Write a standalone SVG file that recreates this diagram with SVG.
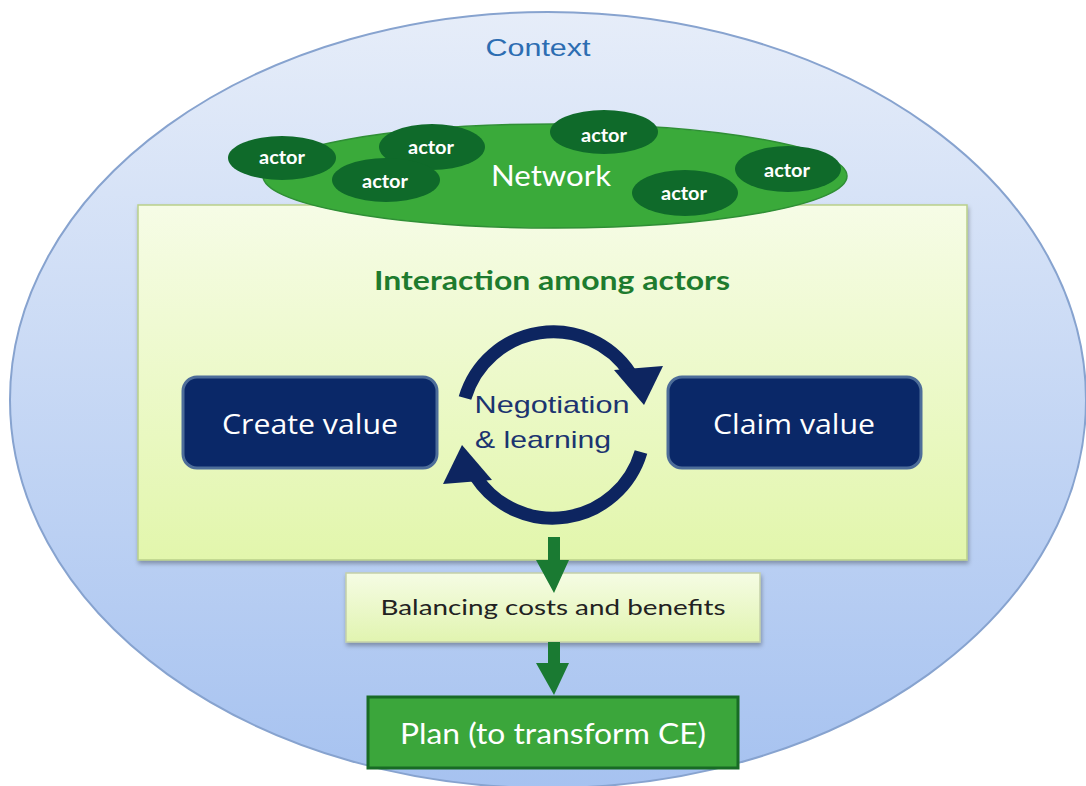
<svg xmlns="http://www.w3.org/2000/svg" width="1086" height="786" viewBox="0 0 1086 786">
<defs>
<linearGradient id="gCtx" x1="0" y1="0" x2="0" y2="1">
<stop offset="0" stop-color="#e6edf9"/>
<stop offset="1" stop-color="#a6c2f0"/>
</linearGradient>
<linearGradient id="gInt" x1="0" y1="0" x2="0" y2="1">
<stop offset="0" stop-color="#f6fce6"/>
<stop offset="1" stop-color="#e2f6ac"/>
</linearGradient>
<linearGradient id="gBal" x1="0" y1="0" x2="0" y2="1">
<stop offset="0" stop-color="#f5fce4"/>
<stop offset="1" stop-color="#e1f4b0"/>
</linearGradient>
<filter id="sh" x="-10%" y="-10%" width="120%" height="130%">
<feDropShadow dx="1" dy="3" stdDeviation="2" flood-color="#000" flood-opacity="0.3"/>
</filter>
</defs>
<style>
.actor ellipse{fill:#0f6a2a;}
.actor text{fill:#ffffff;font-family:Lato,"Liberation Sans",sans-serif;font-weight:bold;font-size:18px;text-anchor:middle;}
.navy rect{fill:#0a2868;stroke:#4d6d99;stroke-width:3;}
.navy text{fill:#ffffff;font-family:"Open Sans",Lato,sans-serif;font-size:28px;text-anchor:middle;}
.cyc{fill:none;stroke:#0d2560;stroke-width:13;}
.cyh{fill:#0d2560;}
.garrow{fill:#1a7a32;}
</style>

<g id="context">
<ellipse cx="548" cy="400" rx="538" ry="388" fill="url(#gCtx)" stroke="#87a3cf" stroke-width="2"/>
<text x="538" y="56" font-family="Liberation Sans,Arial,sans-serif" font-size="24" fill="#2c6db2" text-anchor="middle" textLength="105" lengthAdjust="spacingAndGlyphs">Context</text>
</g>

<g id="interaction">
<rect x="138" y="205" width="829" height="355" fill="url(#gInt)" stroke="#b9cf8a" stroke-width="1.5" filter="url(#sh)"/>
<text x="552" y="290" font-family="Lato,Open Sans,sans-serif" font-weight="bold" font-size="26" fill="#1e7b2e" text-anchor="middle" textLength="356" lengthAdjust="spacingAndGlyphs">Interaction among actors</text>
</g>

<g id="network">
<ellipse cx="555" cy="176" rx="292" ry="52" fill="#3aaa3a" stroke="#2f8f35" stroke-width="1.5"/>
<text x="551" y="186" font-family="Lato,Open Sans,sans-serif" font-size="28" fill="#ffffff" text-anchor="middle" textLength="120" lengthAdjust="spacingAndGlyphs">Network</text>
</g>

<g id="actor1" class="actor"><ellipse cx="282" cy="158" rx="54" ry="22"/><text x="282" y="164" textLength="46" lengthAdjust="spacingAndGlyphs">actor</text></g>
<g id="actor2" class="actor"><ellipse cx="432" cy="147" rx="53" ry="23"/><text x="431" y="154" textLength="46" lengthAdjust="spacingAndGlyphs">actor</text></g>
<g id="actor3" class="actor"><ellipse cx="386" cy="180" rx="54" ry="22"/><text x="385" y="188" textLength="46" lengthAdjust="spacingAndGlyphs">actor</text></g>
<g id="actor4" class="actor"><ellipse cx="604" cy="132" rx="54" ry="22"/><text x="604" y="142" textLength="46" lengthAdjust="spacingAndGlyphs">actor</text></g>
<g id="actor5" class="actor"><ellipse cx="685" cy="193" rx="53" ry="23"/><text x="684" y="200" textLength="46" lengthAdjust="spacingAndGlyphs">actor</text></g>
<g id="actor6" class="actor"><ellipse cx="788" cy="169" rx="53" ry="23"/><text x="787" y="177" textLength="46" lengthAdjust="spacingAndGlyphs">actor</text></g>

<g id="create-value" class="navy">
<rect x="183" y="377" width="254" height="91" rx="14"/>
<text x="310" y="434" textLength="176" lengthAdjust="spacingAndGlyphs">Create value</text>
</g>

<g id="claim-value" class="navy">
<rect x="668" y="377" width="253" height="91" rx="14"/>
<text x="794" y="434" textLength="162" lengthAdjust="spacingAndGlyphs">Claim value</text>
</g>

<g id="negotiation">
<text x="552" y="413" font-family="Liberation Sans,Arial,sans-serif" font-size="24" fill="#1c3470" text-anchor="middle" textLength="155" lengthAdjust="spacingAndGlyphs">Negotiation</text>
<text x="543" y="448" font-family="Liberation Sans,Arial,sans-serif" font-size="24" fill="#1c3470" text-anchor="middle" textLength="136" lengthAdjust="spacingAndGlyphs">&amp; learning</text>
</g>

<g id="balancing">
<rect x="346" y="573" width="414" height="69" fill="url(#gBal)" stroke="#c4d0a8" stroke-width="1.5" filter="url(#sh)"/>
<text x="553" y="615" font-family="Lato,Open Sans,sans-serif" font-size="22" fill="#222222" text-anchor="middle" textLength="345" lengthAdjust="spacingAndGlyphs">Balancing costs and benefits</text>
</g>

<g id="plan">
<rect x="368" y="697" width="370" height="71" fill="#3ba63b" stroke="#186b25" stroke-width="3"/>
<text x="553" y="744" font-family="Lato,Open Sans,sans-serif" font-size="29" fill="#ffffff" text-anchor="middle" textLength="306" lengthAdjust="spacingAndGlyphs">Plan (to transform CE)</text>
</g>

<g id="connectors">
<path class="cyc" d="M465,398 A92,92 0 0 1 630,373"/>
<polygon class="cyh" points="614,370 663,366 644,405"/>
<path class="cyc" d="M641,452 A92,92 0 0 1 476,477"/>
<polygon class="cyh" points="492,480 443,484 462,445"/>
<path class="garrow" d="M548,537 H560 V560 H569 L554,593 L536,560 H548 Z"/>
<path class="garrow" d="M548,642 H560 V663 H569 L554,695 L536,663 H548 Z"/>
</g>
</svg>
